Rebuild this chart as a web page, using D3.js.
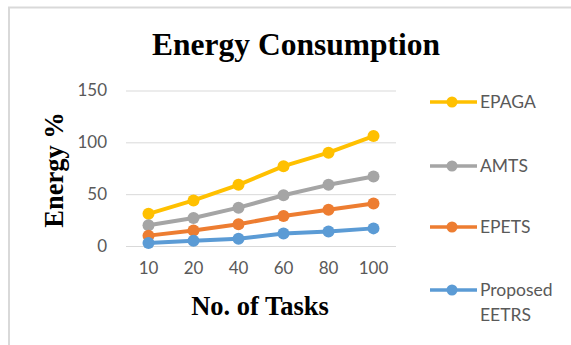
<!DOCTYPE html>
<html>
<head>
<meta charset="utf-8">
<script src="https://cdn.jsdelivr.net/npm/d3@7"></script>
<style>
  html, body { margin: 0; padding: 0; background: #fff; }
  svg { display: block; }
</style>
</head>
<body>
<svg id="chart" width="571" height="345"></svg>
<script>
// Tasks on the x axis and energy use (%) per scheduling method
const tasks = ["10", "20", "40", "60", "80", "100"];
const epaga = [31, 44, 59, 77, 90, 106];
const amts = [20, 27, 37, 49, 59, 67];
const epets = [10, 15, 21, 29, 35, 41];
const proposed = [3, 5, 7, 12, 14, 17];
const seriesNames = ["EPAGA", "AMTS", "EPETS", "Proposed EETRS"];
const yTicks = [0, 50, 100, 150];

const colors = ["#FFC000", "#A5A5A5", "#ED7D31", "#5B9BD5"];
const seriesValues = [epaga, amts, epets, proposed];
const series = seriesNames.map((name, i) => ({ name, values: seriesValues[i], color: colors[i] }));

const svg = d3.select("#chart");
const tickFont = "Lato, 'Open Sans', sans-serif";
const serif = "'Liberation Serif', 'Times New Roman', serif";

// Outer chart frame
svg.append("rect")
  .attr("x", 9).attr("y", 7.5).attr("width", 600).attr("height", 400)
  .attr("fill", "none").attr("stroke", "#d9d9d9").attr("stroke-width", 2);

const x = d3.scaleBand().domain(tasks).range([126, 396]).padding(0);
const y = d3.scaleLinear().domain([0, 150]).range([246, 90.5]);

// Horizontal gridlines and y tick labels
const yAxis = d3.axisLeft(y).tickValues(yTicks).tickSize(-(396 - 126)).tickPadding(19);
const gy = svg.append("g").attr("transform", "translate(126,0)").call(yAxis);
gy.select(".domain").remove();
gy.selectAll(".tick line").attr("stroke", "#d9d9d9").attr("stroke-width", 1);
gy.selectAll(".tick text")
  .attr("fill", "#595959").attr("font-family", tickFont).attr("font-size", 17);

// x tick labels
const xAxis = d3.axisBottom(x).tickSize(0).tickPadding(16);
const gx = svg.append("g").attr("transform", "translate(0,246)").call(xAxis);
gx.select(".domain").remove();
gx.selectAll(".tick text")
  .attr("fill", "#595959").attr("font-family", tickFont).attr("font-size", 17);

// Lines and markers
const line = d3.line()
  .x((d, i) => x(tasks[i]) + x.bandwidth() / 2)
  .y(d => y(d));

series.forEach(s => {
  const g = svg.append("g");
  g.append("path")
    .attr("d", line(s.values))
    .attr("fill", "none").attr("stroke", s.color)
    .attr("stroke-width", 4).attr("stroke-linejoin", "round");
  g.selectAll("circle").data(s.values).join("circle")
    .attr("cx", (d, i) => x(tasks[i]) + x.bandwidth() / 2)
    .attr("cy", d => y(d))
    .attr("r", 6)
    .attr("fill", s.color);
});

// Title and axis titles
svg.append("text")
  .attr("x", 296).attr("y", 55)
  .attr("text-anchor", "middle")
  .attr("font-family", serif).attr("font-weight", "bold").attr("font-size", 31.5)
  .attr("fill", "#000")
  .text("Energy Consumption");

svg.append("text")
  .attr("transform", "translate(63,170) rotate(-90)")
  .attr("text-anchor", "middle")
  .attr("font-family", serif).attr("font-weight", "bold").attr("font-size", 26.5)
  .attr("fill", "#000")
  .text("Energy %");

svg.append("text")
  .attr("x", 260).attr("y", 315)
  .attr("text-anchor", "middle")
  .attr("font-family", serif).attr("font-weight", "bold").attr("font-size", 26.5)
  .attr("fill", "#000")
  .text("No. of Tasks");

// Legend
const legendY = [102, 166, 227, 290];
series.forEach((s, i) => {
  const g = svg.append("g").attr("transform", `translate(0,${legendY[i]})`);
  g.append("line")
    .attr("x1", 430).attr("x2", 477).attr("y1", 0).attr("y2", 0)
    .attr("stroke", s.color).attr("stroke-width", 3.5);
  g.append("circle").attr("cx", 452).attr("cy", 0).attr("r", 5.5).attr("fill", s.color);
  const words = s.name === "Proposed EETRS" ? ["Proposed", "EETRS"] : [s.name];
  const t = g.append("text")
    .attr("font-family", tickFont).attr("font-size", 17.5).attr("fill", "#595959");
  words.forEach((w, k) => {
    t.append("tspan").attr("x", 480).attr("y", 6 + k * 25).text(w);
  });
});
</script>
</body>
</html>
